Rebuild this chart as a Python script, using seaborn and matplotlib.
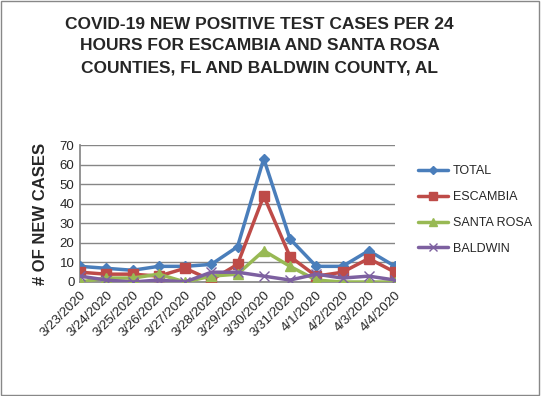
import matplotlib
matplotlib.use("Agg")
import matplotlib.pyplot as plt
import seaborn as sns
import pandas as pd
from matplotlib.patches import Rectangle

dates = ["3/23/2020", "3/24/2020", "3/25/2020", "3/26/2020", "3/27/2020", "3/28/2020",
         "3/29/2020", "3/30/2020", "3/31/2020", "4/1/2020", "4/2/2020", "4/3/2020", "4/4/2020"]
total = [8, 7, 6, 8, 8, 9, 18, 63, 22, 8, 8, 16, 8]
escambia = [5, 4, 4, 3, 7, 1, 9, 44, 13, 3, 5, 12, 5]
santa_rosa = [0, 2, 2, 4, 0, 3, 4, 16, 8, 1, 0, 0, 0]
baldwin = [3, 1, 0, 1, 0, 5, 5, 3, 1, 4, 2, 3, 1]

series = ["TOTAL", "ESCAMBIA", "SANTA ROSA", "BALDWIN"]
colors = ["#4A7EBB", "#BE4B48", "#98B954", "#7D60A0"]
markers = ["D", "s", "^", "x"]
msizes = [5.5, 7, 7, 7]

rows = []
for name, vals in zip(series, [total, escambia, santa_rosa, baldwin]):
    for i, (d, v) in enumerate(zip(dates, vals)):
        rows.append({"idx": i, "date": d, "series": name, "value": v})
df = pd.DataFrame(rows)

sns.set_theme(style="white")
plt.rcParams['font.family'] = ['Liberation Sans', 'DejaVu Sans']

fig = plt.figure(figsize=(5.41, 3.96), dpi=100)
ax = fig.add_axes([80/541, 1-282/396, (395-80)/541, (282-145)/396])

for name, c, m, ms in zip(series, colors, markers, msizes):
    sub = df[df.series == name]
    sns.lineplot(data=sub, x="idx", y="value", ax=ax, color=c, linewidth=2.5,
                 marker=m, markersize=ms, markeredgecolor=c, markerfacecolor=c,
                 markeredgewidth=1.0, label=name, zorder=3)

ax.set_xlim(0, len(dates) - 1)
ax.set_ylim(0, 70)
ax.set_yticks(range(0, 71, 10))
ax.tick_params(axis='y', labelsize=9.5, length=0, pad=4)
ax.set_xticks(range(len(dates)))
ax.set_xticklabels(dates, rotation=45, ha='right', rotation_mode='anchor', fontsize=9.5)
ax.tick_params(axis='x', length=0, pad=5)
ax.yaxis.grid(True, color="#868686", linewidth=1)
ax.set_axisbelow(True)
for s in ["top", "right"]:
    ax.spines[s].set_visible(False)
ax.spines["left"].set_color("#868686")
ax.spines["bottom"].set_color("#868686")
ax.set_xlabel("")
ax.set_ylabel("# OF NEW CASES", fontsize=12, fontweight='bold', labelpad=8)

leg = ax.legend(loc='center left', bbox_to_anchor=(418/541, 1-210/396),
                bbox_transform=fig.transFigure, frameon=False,
                fontsize=9, labelspacing=1.1, handlelength=2.4, handletextpad=0.4,
                markerscale=0.75, borderaxespad=0, borderpad=0)

fig.text(0.48, 0.884, "COVID-19 NEW POSITIVE TEST CASES PER 24\nHOURS FOR ESCAMBIA AND SANTA ROSA\nCOUNTIES, FL AND BALDWIN COUNTY, AL",
         ha='center', va='center', fontsize=12.5, fontweight='bold', linespacing=1.55)

fig.patches.append(Rectangle((0.002, 0.003), 0.995, 0.994, transform=fig.transFigure,
                             fill=False, edgecolor="#888888", linewidth=1))

fig.savefig("out.png", dpi=100)
